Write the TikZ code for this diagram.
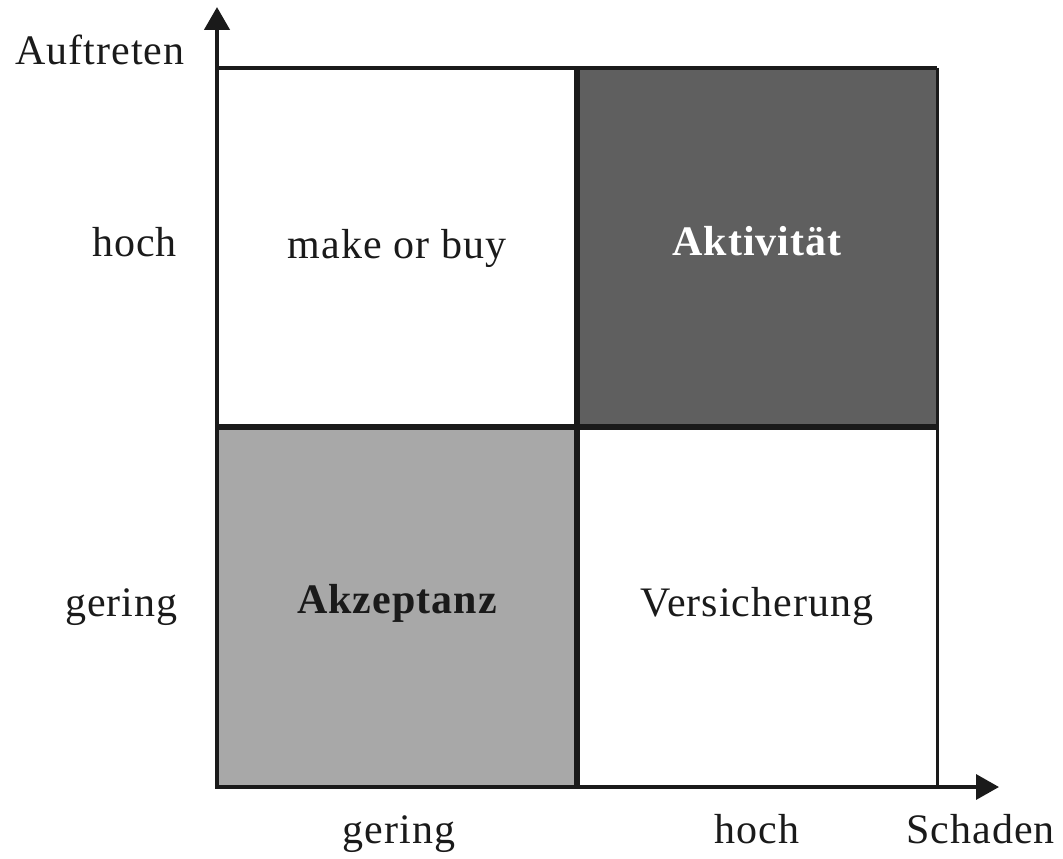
\documentclass[tikz,border=0pt]{standalone}
\usepackage{fontspec}
\setmainfont{Liberation Serif}[LetterSpace=2.5]
\usetikzlibrary{arrows.meta}
\definecolor{ink}{HTML}{1A1A1A}
\definecolor{darkcell}{HTML}{5F5F5F}
\definecolor{lightcell}{HTML}{A8A8A8}
\tikzset{
  lbl/.style={font=\fontsize{42}{48}\selectfont, text=ink, inner sep=0pt},
  celllbl/.style={lbl, anchor=base},
  axisline/.style={draw=ink, line width=4.5pt, -{Triangle[length=23pt,width=25pt]}},
  frame/.style={draw=ink, line width=4pt},
  divider/.style={draw=ink, line width=6pt},
}
\begin{document}
\begin{tikzpicture}[x=1pt,y=-1pt]
\useasboundingbox (0,0) rectangle (1063,859);
% cells
\fill[darkcell] (577,68) rectangle (937,427);
\fill[lightcell] (217,427) rectangle (577,787);
% frame
\coordinate (o) at (217,787);
\coordinate (tl) at (217,68);
\coordinate (tr) at (937,68);
\coordinate (br) at (937,787);
\coordinate (tm) at (577,68);
\coordinate (bm) at (577,787);
\coordinate (lm) at (217,427);
\coordinate (rm) at (937,427);
\coordinate (ytip) at (217,7);
\coordinate (xtip) at (999,787);
\draw[frame] (tl) -- (tr);
\draw[frame, line width=3pt] (tr) -- (br);
\draw[divider] (tm) -- (bm);
\draw[divider] (lm) -- (rm);
\draw[axisline] (o) -- (ytip);
\draw[axisline, line width=3.5pt] ([xshift=-2pt]o) -- (xtip);
% labels
\node[lbl, anchor=base west] (yl) at (15,65) {Auftreten};
\node[lbl, anchor=base east] (yh) at (177,256) {hoch};
\node[lbl, anchor=base east] (yg) at (178,616) {gering};
\node[lbl, anchor=base] (xg) at (399,843) {gering};
\node[lbl, anchor=base] (xh) at (757,843) {hoch};
\node[lbl, anchor=base east] (xl) at (1055,843) {Schaden};
\node[celllbl] (mob) at (397,258) {make or buy};
\node[celllbl, text=white, font=\fontsize{42}{48}\selectfont\bfseries] (akt) at (757,255) {Aktivität};
\node[celllbl, font=\fontsize{42}{48}\selectfont\bfseries] (akz) at (397,613) {Akzeptanz};
\node[celllbl] (ver) at (757,616) {Versicherung};
\end{tikzpicture}
\end{document}
